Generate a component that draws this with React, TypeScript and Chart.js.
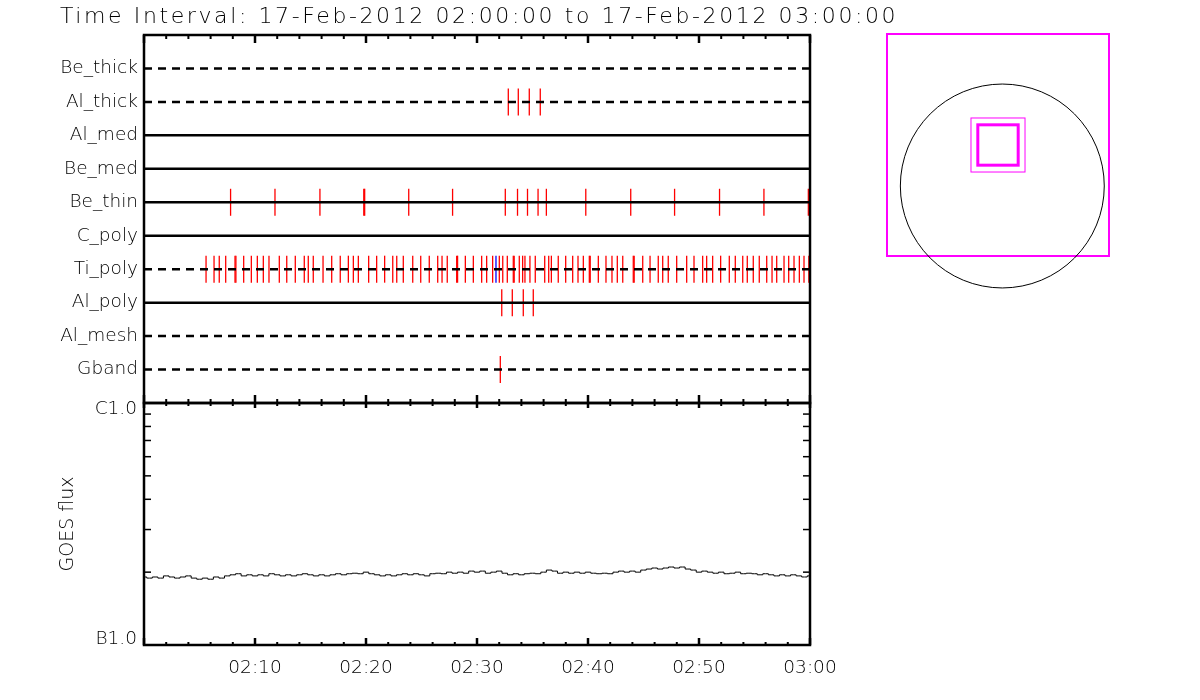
import React, { useEffect, useRef } from 'react';
import { Chart, registerables } from 'chart.js';
Chart.register(...registerables);

// ---------------- DATA ----------------
const TITLE = 'Time Interval: 17-Feb-2012 02:00:00 to 17-Feb-2012 03:00:00';

const filterNames = ['Be_thick', 'Al_thick', 'Al_med', 'Be_med', 'Be_thin', 'C_poly', 'Ti_poly', 'Al_poly', 'Al_mesh', 'Gband'];
const filterDashed = [true, true, false, false, false, false, true, false, true, true];

// event times, minutes after 02:00
const alThickEvents = [32.82, 33.72, 34.71, 35.7];
const beThinEvents = [7.8, 11.8, 15.85, 19.8, 19.88, 23.85, 27.8, 32.55, 33.65, 34.55, 35.5, 36.25, 39.8, 43.85, 47.8, 51.85, 55.85, 59.85];
const tiPolyEvents = [5.59, 6.31, 6.78, 7.36, 8.2, 8.28, 8.98, 9.67, 10.21, 10.75, 11.26, 12.19, 12.86, 13.63, 14.44, 14.8, 15.25, 16.13, 16.91, 17.68, 18.41, 18.86, 19.31, 20.24, 20.96, 21.68, 22.41, 22.77, 23.36, 24.21, 24.93, 25.7, 26.46, 26.85, 27.32, 28.17, 28.25, 28.95, 29.67, 30.42, 30.87, 31.41, 32.01, 32.32, 32.73, 33.27, 33.35, 33.81, 34.11, 34.32, 34.77, 35.25, 36.1, 36.46, 36.7, 37.32, 37.99, 38.62, 39.1, 39.58, 40.12, 40.2, 40.93, 41.62, 42.16, 42.64, 43.13, 44.08, 44.16, 44.93, 45.59, 46.33, 46.73, 47.23, 47.99, 48.89, 49.55, 50.33, 50.69, 51.23, 51.95, 52.73, 53.27, 53.94, 54.35, 54.89, 55.43, 56.1, 56.58, 57.0, 57.66, 58.08, 58.56, 59.04, 59.46, 59.9, 59.96];
const tiPolyBlueEvents = [31.71];
const alPolyEvents = [32.23, 33.18, 34.17, 35.07];
const gbandEvents = [32.1];

// GOES flux, units of 1e-7 W/m^2 (B1.0 = 1, C1.0 = 10), one sample every 30 s from 02:00
const GOES_CADENCE_MIN = 0.5;
const goesFlux = [
  1.91, 1.89, 1.91, 1.89, 1.93, 1.91, 1.89, 1.91, 1.93, 1.89,
  1.87, 1.89, 1.87, 1.91, 1.89, 1.93, 1.95, 1.97, 1.93, 1.95,
  1.93, 1.95, 1.93, 1.97, 1.95, 1.93, 1.95, 1.93, 1.95, 1.97,
  1.95, 1.93, 1.95, 1.93, 1.95, 1.97, 1.95, 1.97, 1.98, 1.97,
  2.0, 1.97, 1.95, 1.93, 1.95, 1.93, 1.95, 1.97, 1.95, 1.97,
  1.95, 1.93, 1.97, 1.98, 1.97, 2.0, 1.98, 2.0, 1.98, 2.02,
  2.0, 2.02, 1.98, 2.0, 2.02, 1.98, 1.95, 1.97, 1.95, 1.97,
  1.98, 1.97, 2.0, 2.04, 2.02, 1.98, 2.0, 1.98, 2.0, 1.98,
  2.0, 1.98, 1.97, 1.98, 1.97, 2.0, 2.02, 2.0, 2.02, 2.0,
  2.04, 2.06, 2.08, 2.06, 2.08, 2.1, 2.08, 2.1, 2.06, 2.04,
  2.0, 2.02, 2.0, 1.98, 2.0, 1.97, 1.98, 2.0, 1.97, 1.98,
  1.97, 1.95, 1.97, 1.95, 1.93, 1.95, 1.93, 1.95, 1.93, 1.91,
  1.93,
];
const goesLabelValues = [1, 10];
const goesLabels = [['B1.0', ''], ['', 'C1.0']];
const goesTickValues = [1, 2, 3, 4, 5, 6, 7, 8, 9, 10];

const timeTickValues = [0, 10, 20, 30, 40, 50, 60];
const timeTickLabels = ['', '02:10', '02:20', '02:30', '02:40', '02:50', '03:00'];
const timeMinorStep = 2;
const timeMajorStep = 10;

// Field of view panel (arcsec)
const sunRadius = 970;
const fovCenter = [-41, 390];
const fovWindowHalf = 1056;
const fovBoxSizes = [514, 384];
const fovBoxWidths = [1, 3];

// ---------------- STYLE ----------------
const FONT = 'DejaVu Sans';
const RED = '#ff0000';
const BLUE = '#0000ff';
const MAGENTA = '#ff00ff';

function line(ctx: CanvasRenderingContext2D, x1: number, y1: number, x2: number, y2: number) {
  ctx.beginPath();
  ctx.moveTo(x1, y1);
  ctx.lineTo(x2, y2);
  ctx.stroke();
}

function timeTicks(chart: any, topLen: number[], bottomLen: number[]) {
  const { ctx, chartArea: a, scales } = chart;
  const x = scales.x;
  for (let m = 0; m <= 60; m += timeMinorStep) {
    const px = x.getPixelForValue(m);
    const major = m % timeMajorStep === 0;
    const tl = major ? topLen[1] : topLen[0];
    const bl = major ? bottomLen[1] : bottomLen[0];
    ctx.lineWidth = major ? 2.5 : 2;
    line(ctx, px, a.top, px, a.top + tl);
    line(ctx, px, a.bottom, px, a.bottom - bl);
  }
}

const upperDecor = {
  id: 'upperDecor',
  afterDraw(chart: any) {
    const { ctx, chartArea: a } = chart;
    ctx.save();
    ctx.strokeStyle = '#000';
    ctx.lineWidth = 2.5;
    ctx.strokeRect(a.left, a.top, a.right - a.left, a.bottom - a.top);
    timeTicks(chart, [4, 8], [4, 8]);
    ctx.fillStyle = '#000';
    ctx.font = `200 22px "${FONT}"`;
    (ctx as any).letterSpacing = '2.6px';
    ctx.textBaseline = 'middle';
    ctx.textAlign = 'left';
    ctx.fillText(TITLE, 60, 17);
    ctx.restore();
  },
};

const lowerDecor = {
  id: 'lowerDecor',
  afterDraw(chart: any) {
    const { ctx, chartArea: a, scales } = chart;
    ctx.save();
    ctx.strokeStyle = '#000';
    ctx.lineWidth = 2.5;
    ctx.strokeRect(a.left, a.top, a.right - a.left, a.bottom - a.top);
    timeTicks(chart, [3, 5], [3, 7]);
    ctx.lineWidth = 1.5;
    for (const v of goesTickValues) {
      if (v === 1 || v === 10) continue;
      const py = scales.y.getPixelForValue(v);
      line(ctx, a.left, py, a.left + 7, py);
      line(ctx, a.right, py, a.right - 7, py);
    }
    ctx.restore();
  },
};

const fovDecor = {
  id: 'fovDecor',
  afterDraw(chart: any) {
    const { ctx, chartArea: a, scales } = chart;
    const { x, y } = scales;
    ctx.save();
    ctx.strokeStyle = MAGENTA;
    ctx.lineWidth = 2;
    ctx.strokeRect(a.left, a.top, a.right - a.left, a.bottom - a.top);
    // solar limb
    const cx = x.getPixelForValue(0);
    const cy = y.getPixelForValue(0);
    const r = x.getPixelForValue(sunRadius) - cx;
    ctx.strokeStyle = '#000';
    ctx.lineWidth = 1;
    ctx.beginPath();
    ctx.arc(cx, cy, r, 0, Math.PI * 2);
    ctx.stroke();
    // FOV boxes
    ctx.strokeStyle = MAGENTA;
    fovBoxSizes.forEach((s, i) => {
      const x1 = x.getPixelForValue(fovCenter[0] - s / 2);
      const x2 = x.getPixelForValue(fovCenter[0] + s / 2);
      const y1 = y.getPixelForValue(fovCenter[1] + s / 2);
      const y2 = y.getPixelForValue(fovCenter[1] - s / 2);
      ctx.lineWidth = fovBoxWidths[i];
      ctx.strokeRect(x1, y1, x2 - x1, y2 - y1);
    });
    ctx.restore();
  },
};

function eventDataset(events: number[], row: number, color: string) {
  return {
    type: 'scatter' as const,
    data: events.map((t) => ({ x: t, y: row })),
    pointStyle: 'line',
    pointRotation: 90,
    pointRadius: 13.5,
    pointHoverRadius: 13.5,
    borderColor: color,
    backgroundColor: color,
    borderWidth: 1.3,
    pointBorderWidth: 1.3,
    showLine: false,
    order: 1,
  };
}

const rowOf = (name: string) => filterNames.indexOf(name) + 1;

export default function App() {
  const upperRef = useRef<HTMLCanvasElement>(null);
  const lowerRef = useRef<HTMLCanvasElement>(null);
  const fovRef = useRef<HTMLCanvasElement>(null);

  useEffect(() => {
    Chart.defaults.font.family = FONT;
    Chart.defaults.color = '#000';

    const rowLines = filterNames.map((name, i) => ({
      type: 'line' as const,
      label: name,
      data: [
        { x: 0, y: i + 1 },
        { x: 60, y: i + 1 },
      ],
      borderColor: '#000',
      borderWidth: 2.5,
      borderDash: filterDashed[i] ? [8, 6] : [],
      pointRadius: 0,
      order: 0,
    }));

    const upper = new Chart(upperRef.current!, {
      type: 'scatter',
      data: {
        datasets: [
          ...rowLines,
          eventDataset(alThickEvents, rowOf('Al_thick'), RED),
          eventDataset(beThinEvents, rowOf('Be_thin'), RED),
          eventDataset(tiPolyEvents, rowOf('Ti_poly'), RED),
          eventDataset(tiPolyBlueEvents, rowOf('Ti_poly'), BLUE),
          eventDataset(alPolyEvents, rowOf('Al_poly'), RED),
          eventDataset(gbandEvents, rowOf('Gband'), RED),
        ] as any,
      },
      options: {
        animation: false,
        responsive: false,
        devicePixelRatio: 1,
        events: [],
        layout: { padding: { left: 0, top: 35, right: 90, bottom: 22 } },
        plugins: { legend: { display: false }, tooltip: { enabled: false }, title: { display: false } },
        scales: {
          x: { type: 'linear', min: 0, max: 60, display: false },
          y: {
            type: 'linear',
            min: 0,
            max: 11,
            reverse: true,
            position: 'left',
            afterBuildTicks: (s: any) => {
              s.ticks = filterNames.map((_, i) => ({ value: i + 1 }));
            },
            afterFit: (s: any) => {
              s.width = 144;
            },
            ticks: {
              autoSkip: false,
              padding: 6,
              color: '#000',
              font: { family: FONT, size: 18.5, weight: '200' as any },
              callback: (v: any) => filterNames[Number(v) - 1] ?? '',
            },
            grid: { display: false, drawTicks: false },
            border: { display: false },
          },
        },
      } as any,
      plugins: [upperDecor],
    });

    const lower = new Chart(lowerRef.current!, {
      type: 'line',
      data: {
        datasets: [
          {
            data: goesFlux.map((v, i) => ({ x: i * GOES_CADENCE_MIN, y: v })),
            borderColor: '#000',
            borderWidth: 1,
            pointRadius: 0,
            tension: 0,
            stepped: 'middle',
          },
        ] as any,
      },
      options: {
        animation: false,
        responsive: false,
        devicePixelRatio: 1,
        events: [],
        layout: { padding: { left: 0, top: 20, right: 40, bottom: 0 } },
        plugins: { legend: { display: false }, tooltip: { enabled: false } },
        scales: {
          x: {
            type: 'linear',
            min: 0,
            max: 60,
            afterBuildTicks: (s: any) => {
              s.ticks = timeTickValues.map((v) => ({ value: v }));
            },
            afterFit: (s: any) => {
              s.height = 55;
            },
            ticks: {
              autoSkip: false,
              maxRotation: 0,
              padding: 12,
              color: '#000',
              font: { family: FONT, size: 18.5, weight: '200' as any },
              callback: (v: any) => timeTickLabels[timeTickValues.indexOf(Number(v))] ?? '',
            },
            grid: { display: false, drawTicks: false },
            border: { display: false },
          },
          y: {
            type: 'logarithmic',
            min: 1,
            max: 10,
            position: 'left',
            afterBuildTicks: (s: any) => {
              s.ticks = goesTickValues.map((v) => ({ value: v }));
            },
            afterFit: (s: any) => {
              s.width = 144;
            },
            title: {
              display: true,
              text: 'GOES flux',
              color: '#000',
              font: { family: FONT, size: 19, weight: '200' as any },
              padding: { top: 57, bottom: 0 },
            },
            ticks: {
              autoSkip: false,
              padding: 7,
              color: '#000',
              font: { family: FONT, size: 18.5, weight: '200' as any, lineHeight: 0.62 },
              callback: (v: any) => {
                const k = goesLabelValues.indexOf(Number(v));
                return k >= 0 ? goesLabels[k] : '';
              },
            },
            grid: { display: false, drawTicks: false },
            border: { display: false },
          },
        },
      } as any,
      plugins: [lowerDecor],
    });

    const fov = new Chart(fovRef.current!, {
      type: 'scatter',
      data: { datasets: [] },
      options: {
        animation: false,
        responsive: false,
        devicePixelRatio: 1,
        events: [],
        layout: { padding: { left: 37, top: 34, right: 91, bottom: 44 } },
        plugins: { legend: { display: false }, tooltip: { enabled: false } },
        scales: {
          x: { type: 'linear', min: fovCenter[0] - fovWindowHalf, max: fovCenter[0] + fovWindowHalf, display: false },
          y: { type: 'linear', min: fovCenter[1] - fovWindowHalf, max: fovCenter[1] + fovWindowHalf, display: false },
        },
      } as any,
      plugins: [fovDecor],
    });

    return () => {
      upper.destroy();
      lower.destroy();
      fov.destroy();
    };
  }, []);

  return (
    <div style={{ position: 'absolute', left: 0, top: 0, width: 1200, height: 700, background: '#fff', overflow: 'hidden' }}>
      <canvas ref={lowerRef} width={850} height={317} style={{ position: 'absolute', left: 0, top: 383 }} />
      <canvas ref={upperRef} width={900} height={425} style={{ position: 'absolute', left: 0, top: 0 }} />
      <canvas ref={fovRef} width={350} height={300} style={{ position: 'absolute', left: 850, top: 0 }} />
    </div>
  );
}
